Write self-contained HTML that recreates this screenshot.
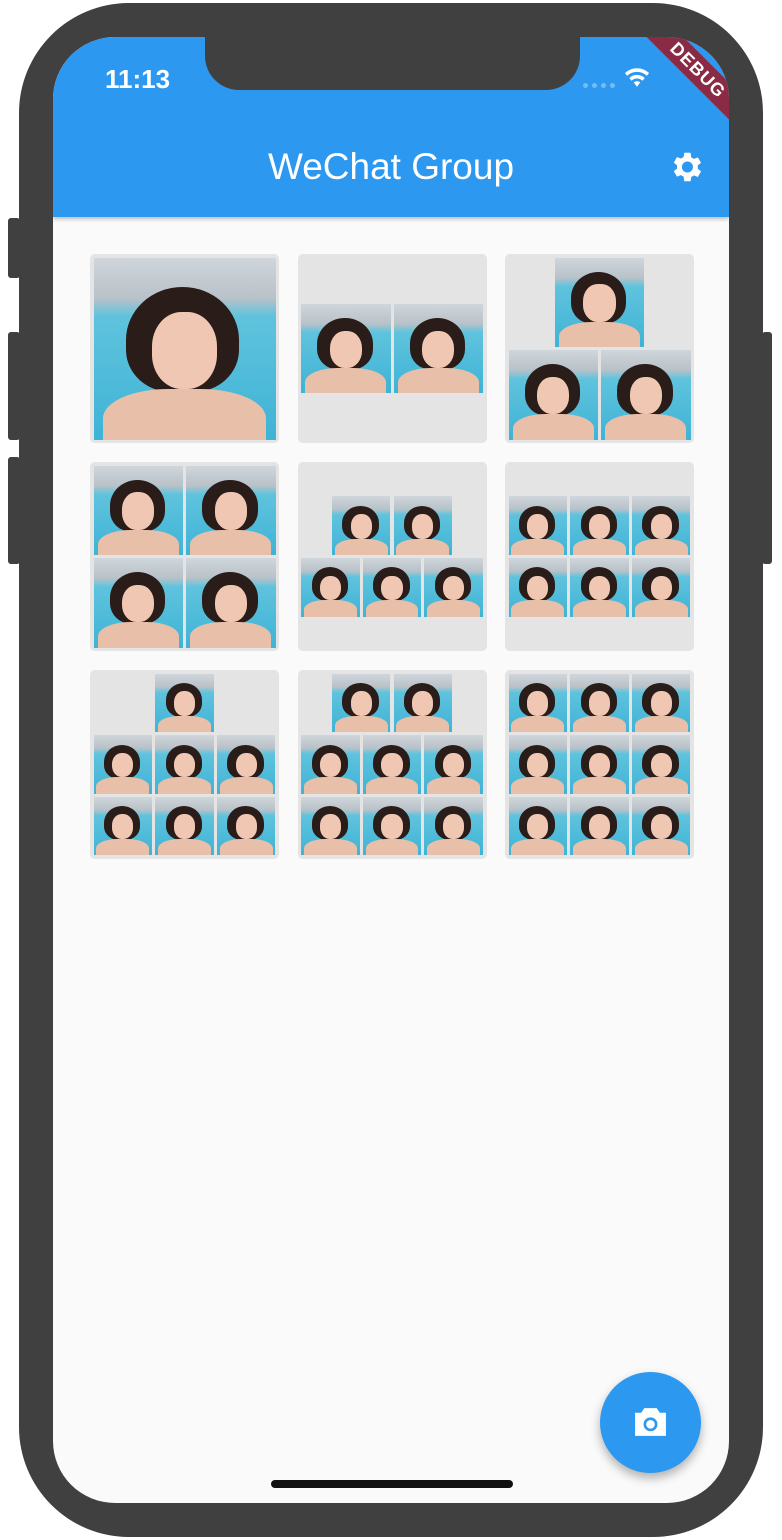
<!DOCTYPE html>
<html><head><meta charset="utf-8">
<style>
*{box-sizing:border-box;margin:0;padding:0}
body{width:782px;height:1540px;background:#fff;position:relative;overflow:hidden;font-family:"Liberation Sans",sans-serif}
.abs{position:absolute}
#phone{left:19px;top:3px;width:744px;height:1534px;background:#404040;border-radius:110px}
.btn{background:#404040;border-radius:3px}
#screen{left:53px;top:37px;width:676px;height:1466px;background:#fafafa;border-radius:62px;overflow:hidden}
#bar{left:0;top:0;width:676px;height:180px;background:#2c98f0;box-shadow:0 2px 4px rgba(0,0,0,.25)}
#notch{left:152px;top:0;width:375px;height:53px;background:#404040;border-radius:0 0 34px 34px}
.cell{position:absolute;width:189px;height:189px;background:#e4e4e4;border-radius:5px}
.img{position:absolute;overflow:hidden;background:linear-gradient(#cfd6dc 0%,#b9c2c8 22%,#5fc3dd 32%,#3fb3d6 100%)}
.img .hair{position:absolute;left:18%;top:16%;width:62%;height:58%;background:#2a1c18;border-radius:50% 50% 40% 40%}
.img .face{position:absolute;left:32%;top:30%;width:36%;height:42%;background:#f0c7b2;border-radius:45%}
.img .body{position:absolute;left:5%;top:72%;width:90%;height:40%;background:#e8bfa8;border-radius:40% 40% 0 0}
</style></head><body>
<div class="abs" id="phone"></div>
<div class="abs btn" style="left:8px;top:218px;width:12px;height:60px"></div>
<div class="abs btn" style="left:8px;top:332px;width:12px;height:108px"></div>
<div class="abs btn" style="left:8px;top:457px;width:12px;height:107px"></div>
<div class="abs btn" style="left:762px;top:332px;width:10px;height:232px"></div>
<div class="abs" id="screen">
  <div class="abs" id="bar">
    <div class="abs" style="left:52px;top:27px;color:#fff;font-size:26px;font-weight:600">11:13</div>
    <div class="abs" style="left:530px;top:46px;width:32px;height:5px;border-top:5px dotted rgba(255,255,255,.35)"></div>
    <svg class="abs" style="left:570px;top:30px" width="28" height="22" viewBox="0 0 24 20"><path d="M12 18l3-4a5 5 0 0 0-6 0zM5 10a10 10 0 0 1 14 0l-2 2.5a7 7 0 0 0-10 0zM1 5.5a16 16 0 0 1 22 0l-2 2.5a13 13 0 0 0-18 0z" fill="#fff"/></svg>
    <div class="abs" style="left:0;top:107px;width:676px;text-align:center;color:#fff;font-size:37px;line-height:46px">WeChat Group</div>
    <svg class="abs" style="left:614px;top:111px" width="38" height="38" viewBox="0 0 24 24"><path fill="#fff" d="M19.4 13a7.5 7.5 0 0 0 0-2l2.1-1.6-2-3.5-2.5 1a7 7 0 0 0-1.7-1L14.9 3h-4l-.4 2.7a7 7 0 0 0-1.7 1l-2.5-1-2 3.5L6.4 11a7.5 7.5 0 0 0 0 2l-2.1 1.6 2 3.5 2.5-1a7 7 0 0 0 1.7 1l.4 2.9h4l.4-2.7a7 7 0 0 0 1.7-1l2.5 1 2-3.5zM12.9 15.5a3.5 3.5 0 1 1 0-7 3.5 3.5 0 0 1 0 7z"/></svg>
  </div>
  <div class="abs" id="notch"></div>
  <div class="abs" style="left:560px;top:20px;width:170px;height:26px;background:#8b2a44;transform:rotate(45deg);color:#fff;font-weight:bold;font-size:18px;text-align:center;line-height:26px;letter-spacing:1px">DEBUG</div>
  <div id="grid"></div>
  <div class="abs" style="left:547px;top:1335px;width:101px;height:101px;border-radius:50%;background:#2c98f0;box-shadow:0 5px 10px rgba(0,0,0,.3)">
    <svg class="abs" style="left:32px;top:33px" width="37" height="34" viewBox="0 0 24 22"><path fill="#fff" d="M8 2h8l2 3h4v15H2V5h4zM12 8a4.5 4.5 0 1 0 0 9 4.5 4.5 0 0 0 0-9z"/><circle cx="12" cy="12.5" r="2.8" fill="#fff"/></svg>
  </div>
  <div class="abs" style="left:218px;top:1443px;width:242px;height:8px;border-radius:4px;background:#111"></div>
</div>
<script>
const counts=[1,2,3,4,5,6,7,8,9];
const grid=document.getElementById('grid');
const screen=document.getElementById('screen');
counts.forEach((n,i)=>{
  const cx=37+(i%3)*207.5, cy=217+Math.floor(i/3)*208;
  const cell=document.createElement('div');
  cell.className='cell';
  
  
  cell.style.left=cx+'px';cell.style.top=cy+'px';
  screen.appendChild(cell);
  const inner=182, gap=3;
  const cols=n===1?1:(n<=4?2:3);
  const size=(inner-gap*(cols-1))/cols;
  const rows=Math.ceil(n/cols);
  const first=n-(rows-1)*cols;
  const totalH=rows*size+(rows-1)*gap;
  const top0=3.5+(inner-totalH)/2;
  for(let r=0;r<rows;r++){
    const inRow=r===0?first:cols;
    const rowW=inRow*size+(inRow-1)*gap;
    const left0=3.5+(inner-rowW)/2;
    for(let c=0;c<inRow;c++){
      const im=document.createElement('div');
      im.className='img';
      
      
      im.style.left=(left0+c*(size+gap))+'px';
      im.style.top=(top0+r*(size+gap))+'px';
      im.style.width=size+'px';im.style.height=size+'px';
      im.innerHTML='<div class="hair"></div><div class="body"></div><div class="face"></div>';
      cell.appendChild(im);
    }
  }
});
</script>
</body></html>
